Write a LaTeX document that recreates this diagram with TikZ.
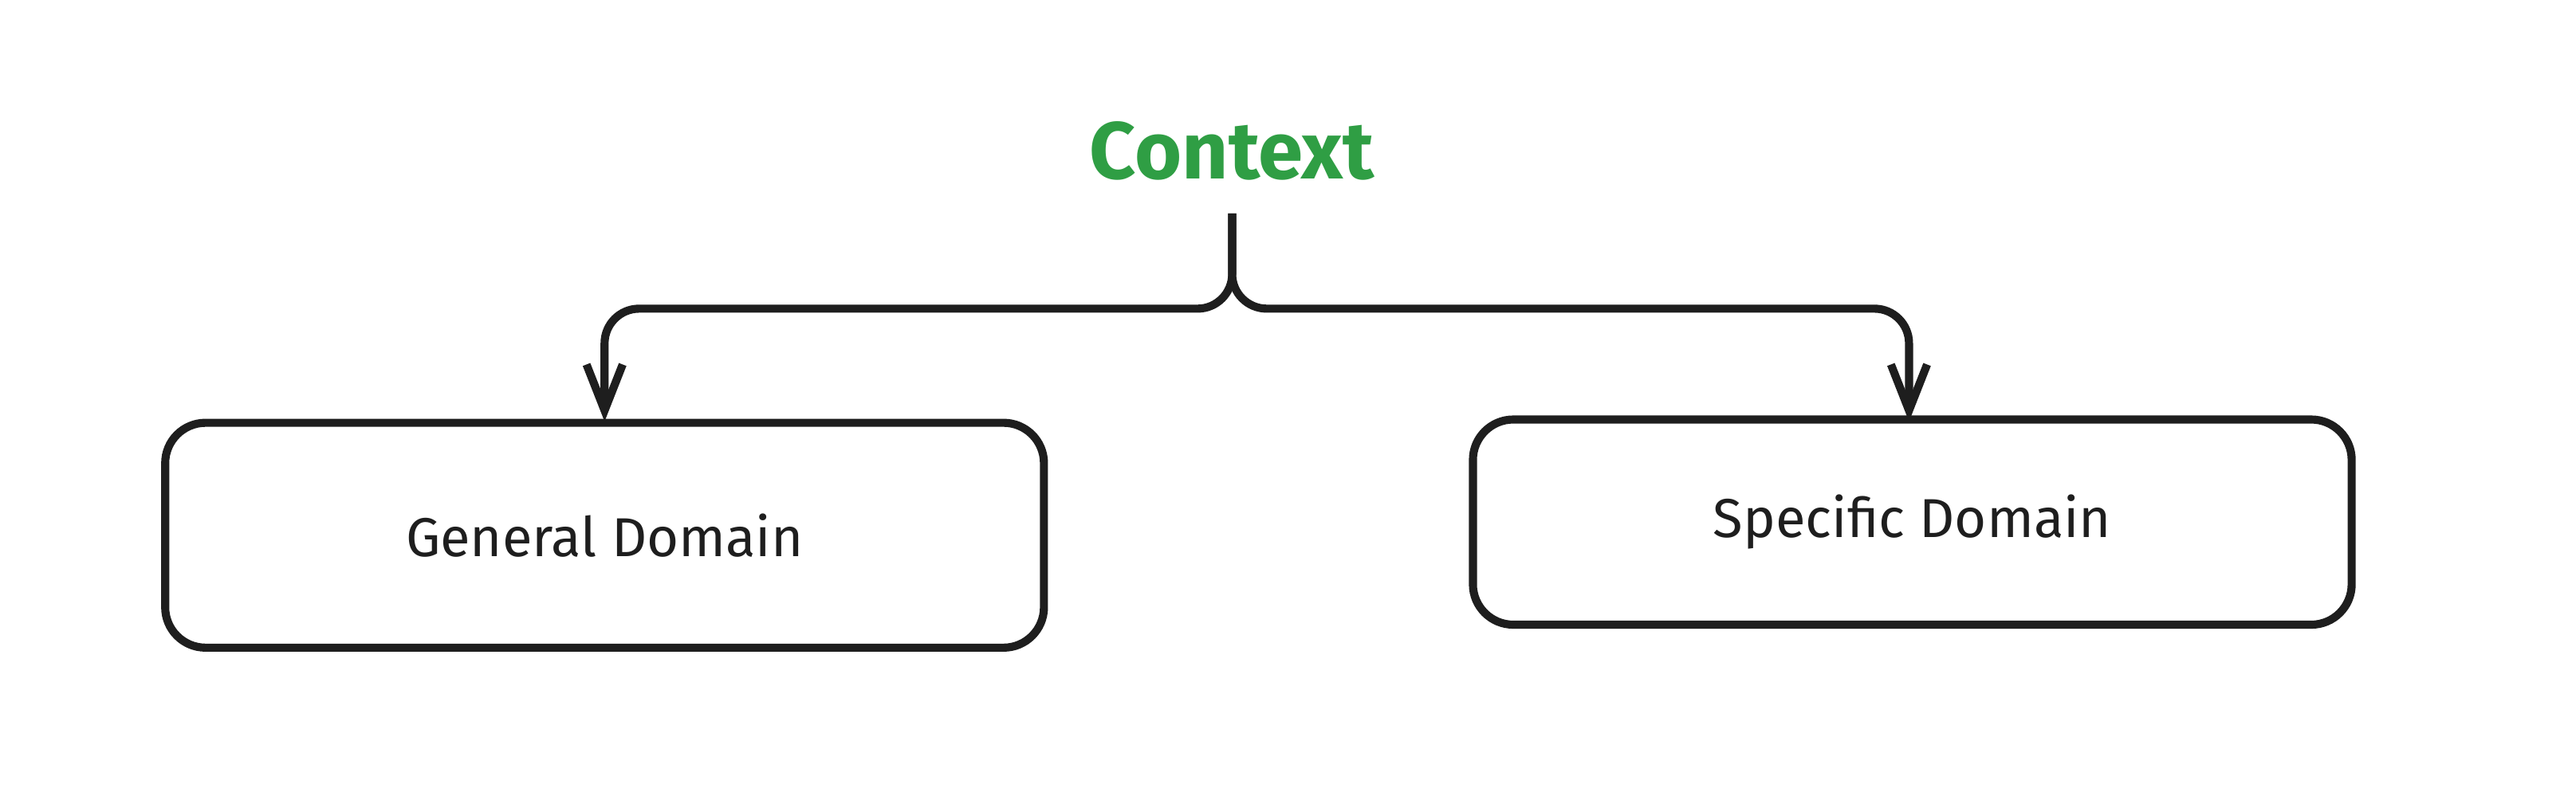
\documentclass[tikz,border=0pt]{standalone}
\usepackage{fontspec}
\setmainfont{Fira Sans}
\usetikzlibrary{positioning}

\definecolor{ink}{HTML}{1E1E1E}
\definecolor{ctxgreen}{HTML}{2F9E44}

\begin{document}
\begin{tikzpicture}[
  x=0.02cm, y=-0.02cm,
  box/.style={draw=ink, line width=2.8pt, rounded corners=14pt,
    minimum width=10.7cm, text=ink, font=\fontsize{19}{23}\selectfont},
  flow/.style={draw=ink, line width=2.8pt, rounded corners=12pt},
  tip/.style={draw=ink, line width=2.8pt},
]
\useasboundingbox (0,0) rectangle (1568,482);

\node[text=ctxgreen, font=\fontsize{28}{34}\selectfont\bfseries] (context) at (750,92) {Context};
\node[box, minimum height=2.74cm] (general) at (368,326) {General Domain};
\node[box, minimum height=2.5cm] (specific) at (1164,318) {Specific Domain};

\coordinate (top) at (750,130);
\coordinate (genin) at (368,250);
\coordinate (specin) at (1162,250);
\draw[flow] (top) |- (560,188) -| (genin);
\draw[flow] (top) |- (960,188) -| (specin);
% arrow heads
\draw[tip] (357,222) -- (genin) -- (379,222);
\draw[tip] (1151,222) -- (specin) -- (1173,222);
\end{tikzpicture}
\end{document}
